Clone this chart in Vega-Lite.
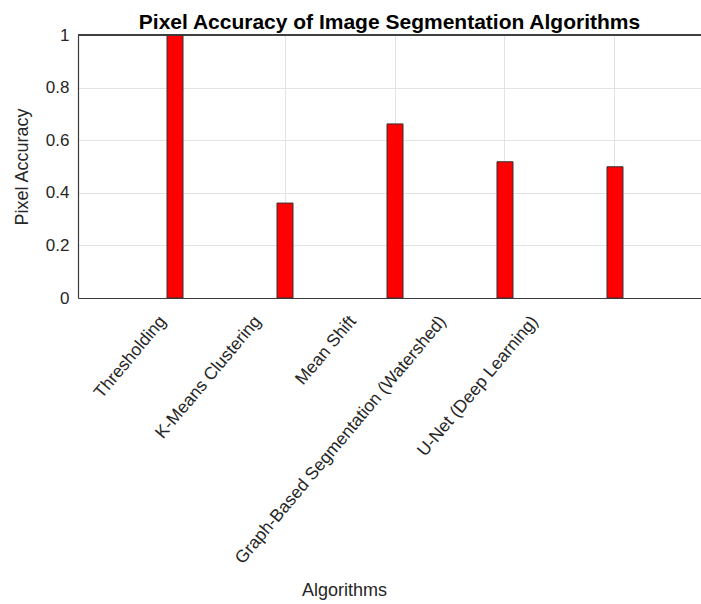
{
  "$schema": "https://vega.github.io/schema/vega-lite/v6.json",
  "autosize": "none",
  "width": 623,
  "height": 263,
  "padding": {"left": 78, "top": 35, "right": 0, "bottom": 306},
  "background": "white",
  "config": {
    "view": {"stroke": null},
    "font": "Liberation Sans",
    "axis": {
      "labelFont": "Liberation Sans",
      "titleFont": "Liberation Sans",
      "labelColor": "#262626",
      "titleColor": "#262626",
      "domainColor": "#3a3a3a",
      "gridColor": "#e3e3e3",
      "titleFontWeight": "normal"
    }
  },
  "title": {
    "text": "Pixel Accuracy of Image Segmentation Algorithms",
    "font": "Liberation Sans",
    "fontSize": 21,
    "fontWeight": "bold",
    "color": "#000000",
    "anchor": "middle",
    "baseline": "bottom",
    "offset": 4,
    "dy": 32
  },
  "data": {
    "values": [
      {"algorithm": "Thresholding", "accuracy": 1.0},
      {"algorithm": "K-Means Clustering", "accuracy": 0.361},
      {"algorithm": "Mean Shift", "accuracy": 0.662},
      {"algorithm": "Graph-Based Segmentation (Watershed)", "accuracy": 0.518},
      {"algorithm": "U-Net (Deep Learning)", "accuracy": 0.499}
    ]
  },
  "layer": [
    {
      "mark": {"type": "bar", "width": 16, "color": "#ff0000", "stroke": "#333333", "strokeWidth": 1},
      "encoding": {
        "x": {
          "field": "algorithm",
          "type": "nominal",
          "sort": null,
          "scale": {"range": [0, 634], "paddingInner": 0, "paddingOuter": 0.382},
          "axis": {
            "title": "Algorithms",
            "titleFontSize": 18,
            "titleX": 266,
            "titleY": 297,
            "titleBaseline": "alphabetic",
            "titleAnchor": "middle",
            "labelAngle": -50,
            "labelAlign": "right",
            "labelBaseline": "middle",
            "labelFontSize": 17.5,
            "labelPadding": 20,
            "labelLimit": 400,
            "labelOffset": {
              "condition": [
                {"test": "datum.value === 'Thresholding'", "value": -12},
                {"test": "datum.value === 'K-Means Clustering'", "value": -27},
                {"test": "datum.value === 'Mean Shift'", "value": -42},
                {"test": "datum.value === 'Graph-Based Segmentation (Watershed)'", "value": -62}
              ],
              "value": -80
            },
            "ticks": false,
            "grid": true,
            "domainWidth": 1.2
          }
        },
        "y": {
          "field": "accuracy",
          "type": "quantitative",
          "scale": {"domain": [0, 1], "nice": false},
          "axis": {
            "title": "Pixel Accuracy",
            "titleFontSize": 18,
            "titlePadding": 14,
            "values": [0, 0.2, 0.4, 0.6, 0.8, 1],
            "format": "~g",
            "labelFontSize": 17,
            "labelPadding": 9,
            "ticks": false,
            "grid": true,
            "domainWidth": 1.2
          }
        }
      }
    },
    {
      "mark": {"type": "rule", "color": "#3a3a3a", "strokeWidth": 1.2},
      "encoding": {"y": {"datum": 1}}
    }
  ]
}
